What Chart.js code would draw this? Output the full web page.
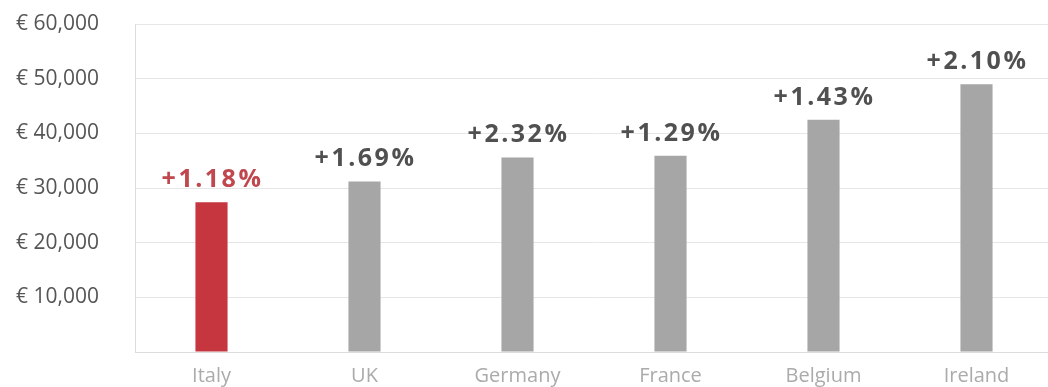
<!DOCTYPE html>
<html>
<head>
<meta charset="utf-8">
<script src="https://cdn.jsdelivr.net/npm/chart.js@4"></script>
<style>
  html, body { margin: 0; padding: 0; background: #fff; overflow: hidden; }
  #wrap { position: relative; width: 1056px; height: 387px; }
</style>
</head>
<body>
<div id="wrap"><canvas id="c"></canvas></div>
<script>
// Average salary per country, with annual growth shown above each bar
const countries = ['Italy', 'UK', 'Germany', 'France', 'Belgium', 'Ireland'];
const salaries = [27400, 31200, 35600, 35900, 42500, 49000];
const growth = ['+1.18%', '+1.69%', '+2.32%', '+1.29%', '+1.43%', '+2.10%'];
const yTicks = [0, 10000, 20000, 30000, 40000, 50000, 60000];

const barColors = countries.map(c => c === 'Italy' ? '#c6363f' : '#a6a6a6');
const labelColors = countries.map(c => c === 'Italy' ? '#c0474d' : '#505050');

// Draws the growth figure centred above each bar
const growthLabels = {
  id: 'growthLabels',
  afterDatasetsDraw(chart) {
    const ctx = chart.ctx;
    const meta = chart.getDatasetMeta(0);
    ctx.save();
    ctx.font = '700 25px "Open Sans", sans-serif';
    ctx.textAlign = 'center';
    ctx.textBaseline = 'alphabetic';
    if ('letterSpacing' in ctx) ctx.letterSpacing = '2.5px';
    meta.data.forEach((bar, i) => {
      ctx.fillStyle = labelColors[i];
      ctx.fillText(growth[i], bar.x + 1, bar.y - 15);
    });
    ctx.restore();
  }
};

new Chart(document.getElementById('c'), {
  type: 'bar',
  data: {
    labels: countries,
    datasets: [{
      data: salaries,
      backgroundColor: barColors,
      borderWidth: 0,
      barPercentage: 0.21,
      categoryPercentage: 1
    }]
  },
  options: {
    responsive: true,
    maintainAspectRatio: false,
    animation: false,
    layout: { padding: { top: 24, right: 3, left: 0, bottom: 0 } },
    plugins: { legend: { display: false }, tooltip: { enabled: false } },
    scales: {
      x: {
        grid: { display: false, drawTicks: false },
        border: { color: '#dcdcdc', width: 1 },
        ticks: {
          color: '#ababab',
          padding: 12,
          font: { family: '"Open Sans", sans-serif', size: 20 }
        },
        afterFit(scale) {
          scale.height = 35;
          scale.paddingLeft = 0;
          scale.paddingRight = 0;
        }
      },
      y: {
        min: 0,
        max: 60000,
        afterBuildTicks(scale) { scale.ticks = yTicks.map(v => ({ value: v })); },
        grid: { color: '#e6e6e6', drawTicks: false, lineWidth: 1 },
        border: { color: '#dcdcdc', width: 1 },
        ticks: {
          color: '#555555',
          padding: 36,
          font: { family: '"Open Sans", sans-serif', size: 21 },
          callback(v) { return v === 0 ? '' : '€ ' + v.toLocaleString('en-US'); }
        },
        afterFit(scale) {
          scale.width = 135;
          scale.paddingTop = 0;
          scale.paddingBottom = 0;
        }
      }
    }
  },
  plugins: [growthLabels]
});
</script>
</body>
</html>
